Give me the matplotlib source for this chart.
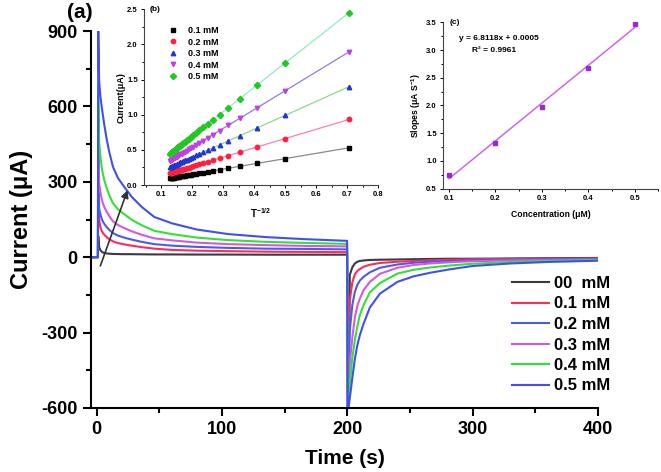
import matplotlib
matplotlib.use("Agg")
import matplotlib.pyplot as plt
from matplotlib.ticker import MultipleLocator

W, H = 661, 472

plt.rcParams.update({
    "font.family": "Liberation Sans",
    "font.weight": "bold",
    "axes.labelweight": "bold",
    "axes.unicode_minus": False,
    "mathtext.fontset": "custom",
    "mathtext.rm": "Liberation Sans:bold",
    "mathtext.default": "rm",
    "axes.linewidth": 1.5,
})

# (a) chronoamperometry, time (s) and current (uA)
TIME = [-5, 1.0, 1.3, 2, 3, 4, 5, 6, 8, 10, 13, 17, 22, 28, 36, 46, 60, 80, 105, 135, 165, 199.8,
        200.4, 202, 204, 206, 208, 210, 213, 218, 226, 240, 253, 266, 282, 300, 330, 360, 400]
I_00 = [0, 0, 83, 40, 28, 22, 19, 17, 15, 14, 13, 12.5, 12, 12, 11.5, 11, 11, 10.5, 10.5, 10, 10, 10,
        -620, -70, -40, -25, -18, -15, -13, -11, -10, -9, -8, -7, -6, -6, -5, -4, -3]
I_01 = [0, 0, 260, 150, 120, 105, 96, 90, 80, 72, 63, 56, 51, 46, 40, 34, 29, 26, 24, 22, 21, 20,
        -620, -170, -100, -68, -55, -47, -38, -30, -23, -18, -15, -12, -10, -8, -7, -6, -5]
I_02 = [0, 0, 380, 193, 171, 153, 142, 133, 120, 109, 96, 86, 78, 70, 61, 52, 46, 41, 37, 34, 33, 31,
        -620, -290, -190, -138, -110, -93, -78, -60, -42, -29, -22, -18, -15, -12, -10, -8, -7]
I_03 = [0, 0, 500, 293, 259, 232, 215, 201, 181, 164, 143, 128, 116, 103, 89, 75, 67, 58, 52, 48, 45, 43,
        -620, -420, -320, -240, -193, -165, -131, -98, -66, -42, -31, -25, -20, -16, -13, -11, -9]
I_04 = [0, 0, 640, 457, 402, 358, 331, 309, 276, 248, 215, 191, 171, 149, 127, 105, 92, 78, 68, 61, 57, 53,
        -620, -500, -400, -330, -275, -230, -190, -140, -103, -65, -50, -41, -33, -26, -19, -15, -11]
I_05 = [0, 0, 900, 700, 640, 600, 565, 530, 470, 420, 360, 315, 280, 240, 200, 160, 135, 110, 92, 80, 72, 65,
        -620, -560, -480, -405, -350, -310, -264, -200, -145, -98, -76, -62, -48, -35, -25, -19, -14]
MAIN_LABELS = ["00  mM", "0.1 mM", "0.2 mM", "0.3 mM", "0.4 mM", "0.5 mM"]
MAIN_COLORS = ["#3a3a44", "#ff2a5a", "#4a5ce6", "#d25ae0", "#33e033", "#4050ee"]

# (b) current vs T^-1/2
T_INV = [0.707, 0.500, 0.408, 0.354, 0.316, 0.289, 0.267, 0.250, 0.236, 0.224, 0.213, 0.204, 0.196,
         0.189, 0.183, 0.177, 0.171, 0.167, 0.162, 0.158, 0.154, 0.151, 0.147, 0.144, 0.141, 0.139,
         0.136, 0.134, 0.131, 0.129]
B_01 = [0.530, 0.375, 0.306, 0.266, 0.237, 0.217, 0.200, 0.188, 0.177, 0.168, 0.160, 0.153, 0.147,
        0.142, 0.137, 0.133, 0.128, 0.125, 0.122, 0.119, 0.116, 0.113, 0.110, 0.108, 0.106, 0.104,
        0.102, 0.101, 0.098, 0.097]
B_02 = [0.933, 0.660, 0.539, 0.467, 0.417, 0.381, 0.352, 0.330, 0.312, 0.296, 0.281, 0.269, 0.259,
        0.249, 0.242, 0.234, 0.226, 0.220, 0.214, 0.209, 0.203, 0.199, 0.194, 0.190, 0.186, 0.183,
        0.180, 0.177, 0.173, 0.170]
B_03 = [1.400, 0.990, 0.808, 0.701, 0.626, 0.572, 0.529, 0.495, 0.467, 0.444, 0.422, 0.404, 0.388,
        0.374, 0.362, 0.350, 0.339, 0.331, 0.321, 0.313, 0.305, 0.299, 0.291, 0.285, 0.279, 0.275,
        0.269, 0.265, 0.259, 0.255]
B_04 = [1.895, 1.340, 1.093, 0.949, 0.847, 0.775, 0.716, 0.670, 0.632, 0.600, 0.571, 0.547, 0.525,
        0.507, 0.490, 0.474, 0.458, 0.448, 0.434, 0.423, 0.413, 0.405, 0.394, 0.386, 0.378, 0.373,
        0.364, 0.359, 0.351, 0.346]
B_05 = [2.453, 1.735, 1.416, 1.228, 1.097, 1.003, 0.926, 0.868, 0.819, 0.777, 0.739, 0.708, 0.680,
        0.656, 0.635, 0.614, 0.593, 0.579, 0.562, 0.548, 0.534, 0.524, 0.510, 0.500, 0.489, 0.482,
        0.472, 0.465, 0.455, 0.448]
B_LABELS = ["0.1 mM", "0.2 mM", "0.3 mM", "0.4 mM", "0.5 mM"]
B_MARKERS = ["s", "o", "^", "v", "D"]
B_MCOLORS = ["#000000", "#ff2040", "#2236d0", "#c040e0", "#22c822"]
B_LCOLORS = ["#8a8a8a", "#ff80b0", "#8ed88e", "#8a80e0", "#90ecc0"]

# (c) slopes vs concentration
CONC = [0.1, 0.2, 0.3, 0.4, 0.5]
SLOPES = [0.75, 1.32, 1.98, 2.68, 3.47]
FIT = [0.682, 1.363, 2.044, 2.725, 3.406]


def box(l, t, r, b):
    return [l / W, 1 - b / H, (r - l) / W, (b - t) / H]


def main() -> None:
    fig = plt.figure(figsize=(W / 100, H / 100), dpi=100)

    # ---- main panel
    ax = fig.add_axes(box(91, 31, 598, 408))
    for y, c, lab in zip([I_00, I_01, I_02, I_03, I_04, I_05], MAIN_COLORS, MAIN_LABELS):
        ax.plot(TIME, y, color=c, lw=1.5, label=lab)
    ax.set_xlim(-4.5, 400)
    ax.set_ylim(-600, 900)
    ax.xaxis.set_major_locator(MultipleLocator(100))
    ax.xaxis.set_minor_locator(MultipleLocator(50))
    ax.yaxis.set_major_locator(MultipleLocator(300))
    ax.yaxis.set_minor_locator(MultipleLocator(150))
    ax.tick_params(which="major", direction="out", length=6, width=1.5, labelsize=13)
    ax.tick_params(which="minor", direction="out", length=3.5, width=1.5)
    for s in ("top", "right"):
        ax.spines[s].set_visible(False)
    ax.set_xlabel("Time (s)", fontsize=15, labelpad=8)
    ax.set_ylabel("Current (\u03bcA)", fontsize=17, labelpad=6)
    ax.annotate("", xy=(25.4, 277), xytext=(2.2, -45),
                arrowprops=dict(arrowstyle="-|>", color="#333333", lw=1.2, mutation_scale=11))
    ax.legend(loc="upper left", bbox_to_anchor=(512 / W, 1 - 276 / H), bbox_transform=fig.transFigure,
              frameon=False, fontsize=12, borderpad=0, borderaxespad=0, handlelength=2.2,
              handletextpad=0.3, labelspacing=0.33)
    fig.text(80 / W, 1 - 13 / H, "(a)", fontsize=15, fontweight="bold", ha="center", va="center")

    # ---- inset (b)
    axb = fig.add_axes(box(144, 9.3, 378, 185))
    axb.patch.set_alpha(0)
    for y, m, mc, lc, lab in zip([B_01, B_02, B_03, B_04, B_05], B_MARKERS, B_MCOLORS, B_LCOLORS, B_LABELS):
        axb.plot(T_INV, y, color=lc, lw=0.9, zorder=2)
        axb.plot(T_INV, y, ls="none", marker=m, ms=3.2, color=mc, label=lab, zorder=3)
    axb.set_xlim(0.045, 0.8)
    axb.set_ylim(0, 2.5)
    axb.xaxis.set_major_locator(MultipleLocator(0.1))
    axb.xaxis.set_minor_locator(MultipleLocator(0.05))
    axb.yaxis.set_major_locator(MultipleLocator(0.5))
    axb.yaxis.set_minor_locator(MultipleLocator(0.25))
    axb.tick_params(which="major", direction="out", length=2.5, width=0.7, labelsize=5.5, pad=2)
    axb.tick_params(which="minor", direction="out", length=1.5, width=0.7)
    for s in ("top", "right"):
        axb.spines[s].set_visible(False)
    for s in ("left", "bottom"):
        axb.spines[s].set_linewidth(0.8)
        axb.spines[s].set_color("#444444")
    axb.set_xlabel("T$^{-1/2}$", fontsize=7, labelpad=6)
    axb.set_ylabel("Current(\u03bcA)", fontsize=6.5, labelpad=1)
    axb.text(0.025, 1.0, "(b)", transform=axb.transAxes, fontsize=6, ha="left", va="center")
    axb.legend(loc="upper left", bbox_to_anchor=(168 / W, 1 - 26 / H), bbox_transform=fig.transFigure,
               frameon=False, fontsize=6.5, borderpad=0, borderaxespad=0, handlelength=1.2,
               handletextpad=1.0, labelspacing=0.28)

    # ---- inset (c)
    axc = fig.add_axes(box(443, 22.3, 658, 188.7))
    axc.patch.set_alpha(0)
    axc.plot(CONC, FIT, color="#cc66ee", lw=1.1)
    axc.plot(CONC, SLOPES, ls="none", marker="s", ms=3.2, color="#9a2ad0")
    axc.set_xlim(0.087, 0.55)
    axc.set_ylim(0.5, 3.5)
    axc.xaxis.set_major_locator(MultipleLocator(0.1))
    axc.xaxis.set_minor_locator(MultipleLocator(0.05))
    axc.yaxis.set_major_locator(MultipleLocator(0.5))
    axc.yaxis.set_minor_locator(MultipleLocator(0.25))
    axc.tick_params(which="major", direction="out", length=2.5, width=0.7, labelsize=5.5, pad=2)
    axc.tick_params(which="minor", direction="out", length=1.5, width=0.7)
    for s in ("top", "right"):
        axc.spines[s].set_visible(False)
    for s in ("left", "bottom"):
        axc.spines[s].set_linewidth(0.8)
        axc.spines[s].set_color("#444444")
    axc.set_xlabel("Concentration (\u03bcM)", fontsize=6.2, labelpad=6)
    axc.set_ylabel("Slopes (\u03bcA S$^{-1}$)", fontsize=6.2, labelpad=2)
    axc.text(0.03, 1.0, "(c)", transform=axc.transAxes, fontsize=6, ha="left", va="center")
    axc.text(0.073, 0.90, "y = 6.8118x + 0.0005", transform=axc.transAxes, fontsize=6,
             ha="left", va="center")
    axc.text(0.133, 0.833, "R\u00b2 = 0.9961", transform=axc.transAxes, fontsize=6,
             ha="left", va="center")

    fig.savefig("out.png", dpi=100)
    plt.close(fig)


if __name__ == "__main__":
    main()
